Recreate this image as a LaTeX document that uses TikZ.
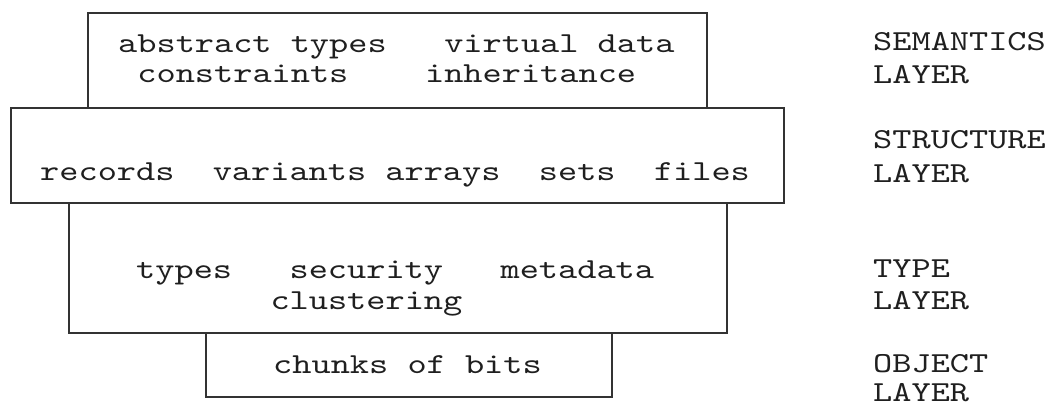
\documentclass[tikz,border=0pt]{standalone}
\usepackage{fontspec}
% wide typewriter face for all the text
\newfontfamily\typew{lmmono10-regular}[Extension=.otf, FakeStretch=1.26]
\begin{document}
\begin{tikzpicture}[x=1pt, y=-1pt,
  layerbox/.style={draw=black!80, line width=1.3pt, inner sep=0pt, outer sep=0pt, anchor=north west},
  word/.style={inner sep=0pt, anchor=base west, text=black!88,
    font=\typew\fontsize{29}{32}\selectfont},
]
\useasboundingbox (0,0) rectangle (1055,407);

% the four stacked layers
\node[layerbox, minimum width=619pt, minimum height=95pt]  (sem)    at (88,13)  {};
\node[layerbox, minimum width=773pt, minimum height=95pt]  (struct) at (11,108)  {};
\node[layerbox, minimum width=658pt, minimum height=130pt] (type)   at (69,203)  {};
\node[layerbox, minimum width=406pt, minimum height=64pt]  (obj)    at (206,333) {};

% semantics layer contents
\node[word] (w-abstract)    at (118,52)    {abstract};
\node[word] (w-atypes)      at (290.6,52)  {types};
\node[word] (w-virtual)     at (444.1,52)  {virtual};
\node[word] (w-data)        at (597.5,52)  {data};
\node[word] (w-constraints) at (137.2,82)  {constraints};
\node[word] (w-inherit)     at (424.9,82)  {inheritance};

% structure layer contents
\node[word] (w-records)  at (40,180)    {records};
\node[word] (w-variants) at (212.6,180) {variants};
\node[word] (w-arrays)   at (385.2,180) {arrays};
\node[word] (w-sets)     at (538.7,180) {sets};
\node[word] (w-files)    at (653.8,180) {files};

% type layer contents
\node[word] (w-types)      at (136,278)   {types};
\node[word] (w-security)   at (289.4,278) {security};
\node[word] (w-metadata)   at (500.4,278) {metadata};
\node[word] (w-clustering) at (270.3,309) {clustering};

% object layer contents
\node[word] (w-chunks) at (273,373)   {chunks};
\node[word] (w-of)     at (407.3,373) {of};
\node[word] (w-bits)   at (464.8,373) {bits};

% layer names
\node[word] (l-sem1)    at (873,50)  {SEMANTICS};
\node[word] (l-sem2)    at (873,83)  {LAYER};
\node[word] (l-struct1) at (873,148) {STRUCTURE};
\node[word] (l-struct2) at (873,182) {LAYER};
\node[word] (l-type1)   at (873,277) {TYPE};
\node[word] (l-type2)   at (873,309) {LAYER};
\node[word] (l-obj1)    at (873,372) {OBJECT};
\node[word] (l-obj2)    at (873,401) {LAYER};
\end{tikzpicture}
\end{document}
